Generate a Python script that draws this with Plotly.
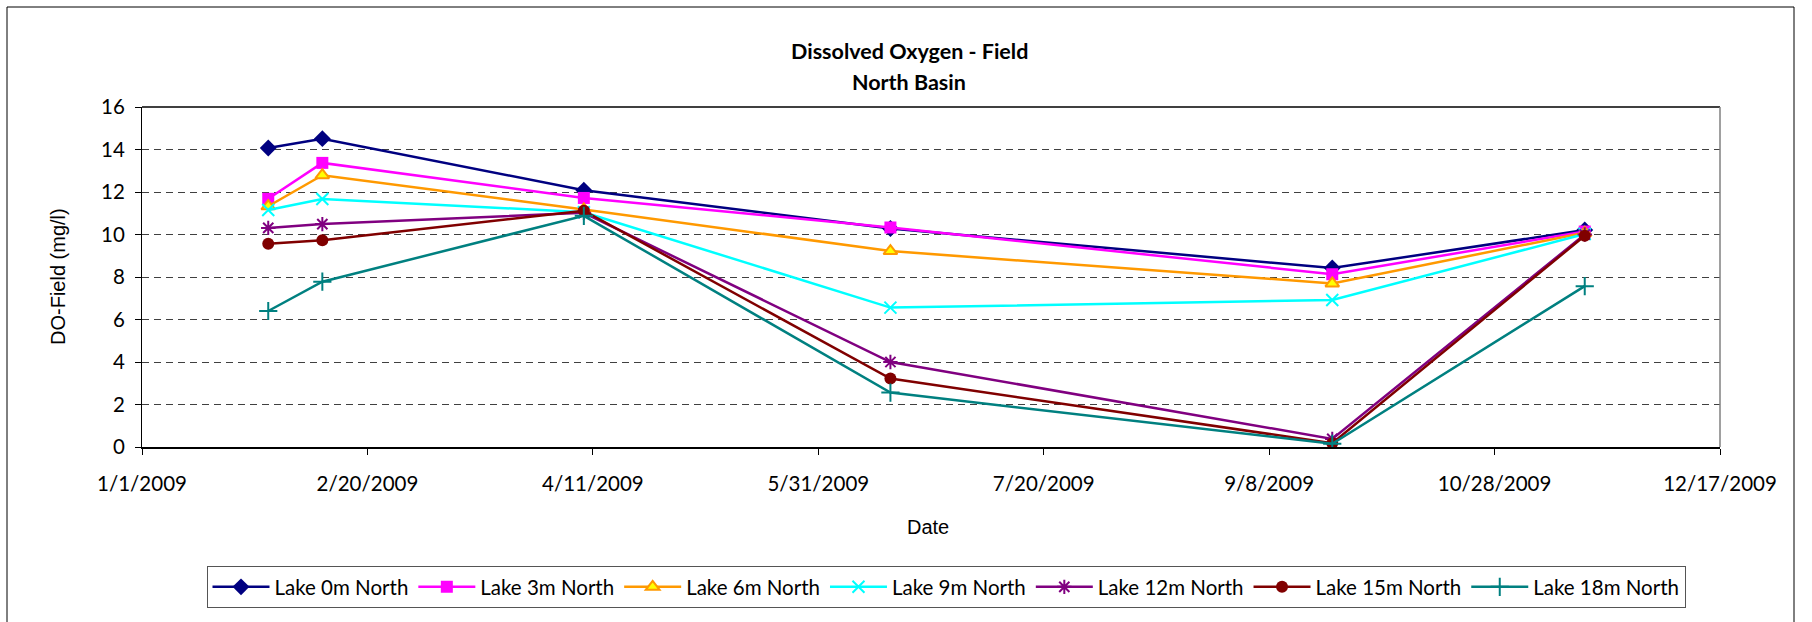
import plotly.graph_objects as go

# ---------------- data ----------------
dates = ["2009-01-29", "2009-02-10", "2009-04-09", "2009-06-16", "2009-09-22", "2009-11-17"]

lake_0m = [14.07, 14.51, 12.08, 10.28, 8.42, 10.21]
lake_3m = [11.68, 13.37, 11.72, 10.33, 8.13, 10.14]
lake_6m = [11.33, 12.79, 11.18, 9.22, 7.70, 10.08]
lake_9m = [11.15, 11.67, 11.05, 6.56, 6.92, 10.02]
lake_12m = [10.31, 10.49, 11.02, 4.00, 0.38, 10.00]
lake_15m = [9.57, 9.73, 11.12, 3.22, 0.18, 9.94]
lake_18m = [6.40, 7.78, 10.88, 2.56, 0.15, 7.57]

series_names = ["Lake 0m North", "Lake 3m North", "Lake 6m North", "Lake 9m North",
                "Lake 12m North", "Lake 15m North", "Lake 18m North"]

x_tick_vals = ["2009-01-01", "2009-02-20", "2009-04-11", "2009-05-31",
               "2009-07-20", "2009-09-08", "2009-10-28", "2009-12-17"]
x_tick_text = ["1/1/2009", "2/20/2009", "4/11/2009", "5/31/2009",
               "7/20/2009", "9/8/2009", "10/28/2009", "12/17/2009"]
y_ticks = [0, 2, 4, 6, 8, 10, 12, 14, 16]

# ---------------- layout constants ----------------
W, H = 1812, 622
ML, MR, MT, MB = 142, 92, 107, 175
PW = W - ML - MR
PH = H - MT - MB


def px(xp):
    return (xp - ML) / PW


def py(yp):
    return (H - MB - yp) / PH


CAL = "Lato, Calibri, sans-serif"
ARI = "Liberation Sans, Arial, sans-serif"

styles = [
    dict(color="#000080", symbol="diamond", size=13, mcolor="#000080", lc="#000080", lw=0),
    dict(color="#FF00FF", symbol="square", size=12, mcolor="#FF00FF", lc="#FF00FF", lw=0),
    dict(color="#FF9900", symbol="triangle-up", size=12, mcolor="#FFFF00", lc="#FF9900", lw=2),
    dict(color="#00FFFF", symbol="x-thin-open", size=12, mcolor="#00FFFF", lc="#00FFFF", lw=2),
    dict(color="#800080", symbol="asterisk-open", size=12, mcolor="#800080", lc="#800080", lw=2),
    dict(color="#800000", symbol="circle", size=12, mcolor="#800000", lc="#800000", lw=0),
    dict(color="#008080", symbol="cross-thin-open", size=13, mcolor="#008080", lc="#008080", lw=2),
]

all_series = [lake_0m, lake_3m, lake_6m, lake_9m, lake_12m, lake_15m, lake_18m]

fig = go.Figure()
for name, vals, st in zip(series_names, all_series, styles):
    fig.add_trace(go.Scatter(
        x=dates, y=vals, name=name, mode="lines+markers",
        line=dict(color=st["color"], width=2.5),
        marker=dict(symbol=st["symbol"], size=st["size"], color=st["mcolor"],
                    line=dict(color=st["lc"], width=st["lw"])),
    ))

fig.update_layout(
    width=W, height=H,
    margin=dict(l=ML, r=MR, t=MT, b=MB),
    paper_bgcolor="white", plot_bgcolor="white",
    showlegend=True,
    legend=dict(
        orientation="h", x=px(946), xanchor="center", y=py(587), yanchor="middle",
        bordercolor="#555555", borderwidth=1, bgcolor="white",
        font=dict(family=CAL, size=20.5, color="black"),
        itemwidth=57, tracegroupgap=0,
    ),
    xaxis=dict(
        type="date", range=["2009-01-01", "2009-12-17"],
        tickmode="array", tickvals=x_tick_vals, ticktext=x_tick_text,
        ticks="outside", ticklen=6, tickcolor="black", tickwidth=1,
        showline=True, linecolor="black", linewidth=2,
        showgrid=False, zeroline=False,
        tickfont=dict(family=CAL, size=20.5, color="black"),
        ticklabelstandoff=11,
    ),
    yaxis=dict(
        range=[0, 16], tickmode="array", tickvals=y_ticks,
        ticks="outside", ticklen=6, tickcolor="black", tickwidth=1,
        showline=True, linecolor="black", linewidth=1,
        showgrid=True, gridcolor="#404040", gridwidth=1, griddash="7px,5px",
        zeroline=False,
        tickfont=dict(family=CAL, size=20.5, color="black"),
        ticklabelstandoff=6,
    ),
    annotations=[
        dict(text="<b>Dissolved Oxygen - Field</b>", x=px(909), y=py(51), xref="paper", yref="paper",
             xanchor="center", yanchor="middle", showarrow=False,
             font=dict(family=CAL, size=21.5, color="black")),
        dict(text="<b>North Basin</b>", x=px(909), y=py(82), xref="paper", yref="paper",
             xanchor="center", yanchor="middle", showarrow=False,
             font=dict(family=CAL, size=21.5, color="black")),
        dict(text="DO-Field (mg/l)", x=px(58), y=py(277), xref="paper", yref="paper",
             xanchor="center", yanchor="middle", showarrow=False, textangle=-90,
             font=dict(family=ARI, size=20, color="black")),
        dict(text="Date", x=px(928), y=py(527), xref="paper", yref="paper",
             xanchor="center", yanchor="middle", showarrow=False,
             font=dict(family=ARI, size=20, color="black")),
    ],
    shapes=[
        # outer chart border
        dict(type="rect", xref="paper", yref="paper", x0=px(7), x1=px(1794), y0=py(650), y1=py(7),
             line=dict(color="black", width=1), layer="below"),
        # plot-area top and right border
        dict(type="line", xref="paper", yref="paper", x0=0, x1=1, y0=1, y1=1,
             line=dict(color="black", width=1.5)),
        dict(type="line", xref="paper", yref="paper", x0=1, x1=1, y0=0, y1=1,
             line=dict(color="#808080", width=1.5)),
    ],
)

fig.write_html("out.html")
